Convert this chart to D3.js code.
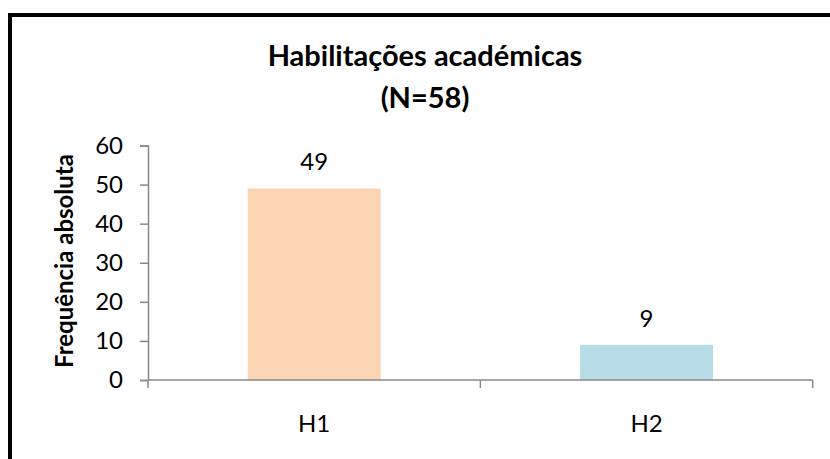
<!DOCTYPE html>
<html>
<head>
<meta charset="utf-8">
<script src="https://cdn.jsdelivr.net/npm/d3@7"></script>
<style>
  html, body { margin: 0; padding: 0; background: #fff; }
  svg { display: block; font-family: Lato, "Open Sans", sans-serif; }
</style>
</head>
<body>
<div id="chart"></div>
<script>
const width = 830;
const height = 459;

// data
const categories = ["H1", "H2"];
const counts = [49, 9];
const barColors = ["#FBD4B4", "#B7DEE8"];
const yTickValues = [0, 10, 20, 30, 40, 50, 60];
const titleLines = ["Habilitações académicas", "(N=58)"];
const yLabel = "Frequência absoluta";

const axisColor = "#888";

const svg = d3.select("#chart").append("svg")
    .attr("width", width)
    .attr("height", height);

// outer frame (only top and left edges show inside the crop)
svg.append("rect")
    .attr("x", 10)
    .attr("y", 15)
    .attr("width", width)
    .attr("height", height)
    .attr("fill", "none")
    .attr("stroke", "#000")
    .attr("stroke-width", 4);

const plot = { left: 148, right: 812.7, top: 145.5, bottom: 380 };

const y = d3.scaleLinear()
    .domain([0, 60])
    .range([plot.bottom, plot.top]);

const x = d3.scaleBand()
    .domain(categories)
    .range([plot.left, plot.right])
    .paddingInner(0.6)
    .paddingOuter(0.3);

// bars
svg.selectAll("rect.bar")
    .data(categories)
    .enter().append("rect")
    .attr("class", "bar")
    .attr("x", d => x(d))
    .attr("width", x.bandwidth())
    .attr("y", (d, i) => y(counts[i]))
    .attr("height", (d, i) => y(0) - y(counts[i]))
    .attr("fill", (d, i) => barColors[i]);

// value labels
svg.selectAll("text.value")
    .data(categories)
    .enter().append("text")
    .attr("class", "value")
    .attr("x", d => x(d) + x.bandwidth() / 2)
    .attr("y", (d, i) => y(counts[i]) - 18)
    .attr("text-anchor", "middle")
    .style("font-size", "24px")
    .style("fill", "#000")
    .text((d, i) => counts[i]);

// y axis
const yAxis = svg.append("g")
    .attr("transform", `translate(${plot.left},0)`)
    .call(d3.axisLeft(y).tickValues(yTickValues).tickSize(8).tickPadding(17));
yAxis.select(".domain").attr("stroke", axisColor).attr("stroke-width", 1.5);
yAxis.selectAll(".tick line").attr("stroke", axisColor).attr("stroke-width", 1.5);
yAxis.selectAll(".tick text")
    .style("font-family", "Lato, sans-serif")
    .style("font-size", "24px")
    .style("fill", "#000");

// x axis: ticks sit on category boundaries
const xBounds = d3.range(categories.length + 1).map(i => plot.left + i * x.step());
const xAxis = svg.append("g");
xAxis.append("line")
    .attr("x1", plot.left).attr("x2", plot.right)
    .attr("y1", plot.bottom).attr("y2", plot.bottom)
    .attr("stroke", axisColor).attr("stroke-width", 1.5);
xAxis.selectAll("line.tick")
    .data(xBounds)
    .enter().append("line")
    .attr("class", "tick")
    .attr("x1", d => d).attr("x2", d => d)
    .attr("y1", plot.bottom).attr("y2", plot.bottom + 8)
    .attr("stroke", axisColor).attr("stroke-width", 1.5);
xAxis.selectAll("text")
    .data(categories)
    .enter().append("text")
    .attr("x", d => x(d) + x.bandwidth() / 2)
    .attr("y", 432)
    .attr("text-anchor", "middle")
    .style("font-size", "24px")
    .style("fill", "#000")
    .text(d => d);

// y axis title
svg.append("text")
    .attr("transform", "translate(73,261) rotate(-90)")
    .attr("text-anchor", "middle")
    .style("font-size", "24px")
    .style("font-weight", "bold")
    .style("fill", "#000")
    .text(yLabel);

// chart title
svg.selectAll("text.title")
    .data(titleLines)
    .enter().append("text")
    .attr("class", "title")
    .attr("x", 425)
    .attr("y", (d, i) => 66 + i * 42)
    .attr("text-anchor", "middle")
    .style("font-size", "29px")
    .style("font-weight", "bold")
    .style("fill", "#000")
    .text(d => d);
</script>
</body>
</html>
